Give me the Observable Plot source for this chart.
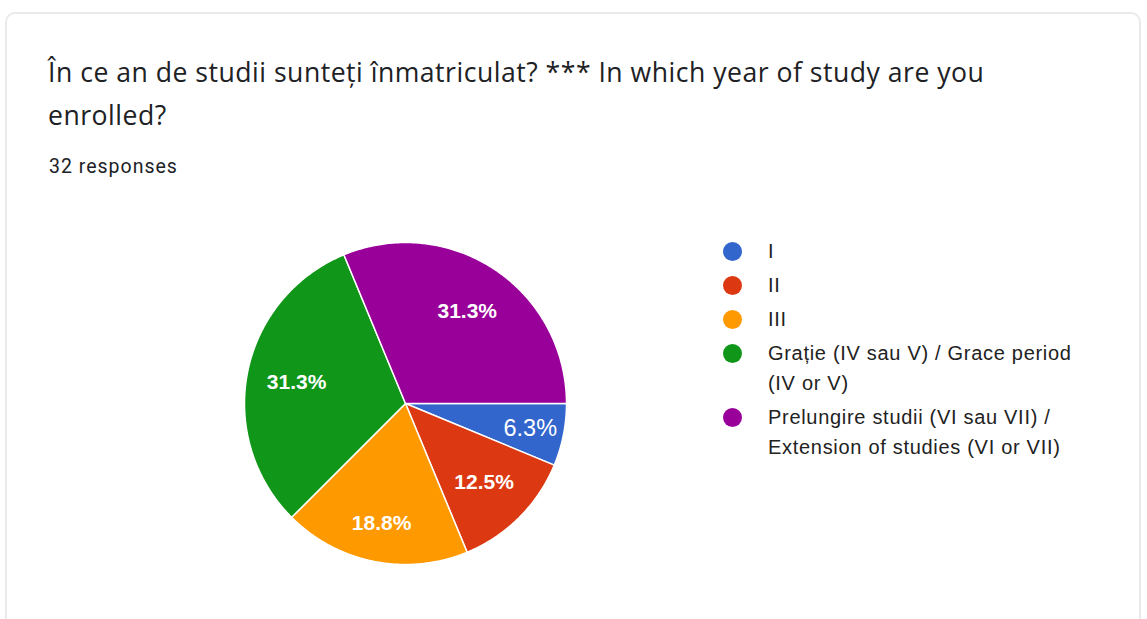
<!DOCTYPE html>
<html>
<head>
<meta charset="utf-8">
<script src="https://cdn.jsdelivr.net/npm/d3@7"></script>
<script src="https://cdn.jsdelivr.net/npm/@observablehq/plot@0.6"></script>
<style>
  html, body { margin: 0; padding: 0; background: #fff; width: 1147px; height: 619px; overflow: hidden; }
  #card { position: absolute; left: 5px; top: 12px; width: 1136px; height: 640px;
          border: 2px solid #e9eaec; border-radius: 10px; box-sizing: border-box; }
  #title { position: absolute; left: 48px; top: 51px; width: 1060px; font-family: "Open Sans", sans-serif;
           font-size: 26.6px; letter-spacing: 0.5px; line-height: 43px; color: #202124; }
  #sub { position: absolute; left: 49px; top: 155px; font-family: Roboto, sans-serif; font-size: 19.5px;
         letter-spacing: 1px; color: #202124; }
  #chart { position: absolute; left: 0; top: 190px; }
  #legend { position: absolute; left: 722px; top: 236px; font-family: Arial, "Liberation Sans", sans-serif;
            font-size: 20px; letter-spacing: 0.7px; color: #222; }
  .item { position: relative; padding-left: 46px; line-height: 30px; margin-bottom: 4px; white-space: pre; }
  .sw { position: absolute; left: 1px; top: 6px; width: 19px; height: 19px; border-radius: 50%; }
</style>
</head>
<body>
<div id="card"></div>
<div id="title">În ce an de studii sunteți înmatriculat? *** In which year of study are you<br>enrolled?</div>
<div id="sub">32 responses</div>
<div id="chart"></div>
<div id="legend"></div>
<script>
const categories = ["I", "II", "III", "Grație (IV sau V) / Grace period (IV or V)", "Prelungire studii (VI sau VII) / Extension of studies (VI or VII)"];
const legendLines = [["I"], ["II"], ["III"], ["Grație (IV sau V) / Grace period", "(IV or V)"], ["Prelungire studii (VI sau VII) /", "Extension of studies (VI or VII)"]];
const counts = [2, 4, 6, 10, 10];
const colors = ["#3366cc", "#dc3912", "#ff9900", "#109618", "#990099"];

// layout
const W = 1147, H = 429, cx = 405, cy = 213, R = 161;
const total = d3.sum(counts);

// slices: start at 3 o'clock, go clockwise
const pie = d3.pie().sort(null).value(d => d)(counts);
const pts = [];
const labels = [];
// label radius fraction (layout) per slice
const labelR = [0.79, 0.69, 0.76, 0.69, 0.69];
pie.forEach((p, i) => {
  const a0 = p.startAngle + Math.PI / 2, a1 = p.endAngle + Math.PI / 2;
  pts.push({cat: categories[i], x: 0, y: 0});
  const n = Math.max(2, Math.ceil((a1 - a0) / 0.01));
  for (let k = 0; k <= n; k++) {
    const a = a0 + (a1 - a0) * k / n;
    pts.push({cat: categories[i], x: Math.sin(a), y: Math.cos(a)});
  }
  const am = (a0 + a1) / 2;
  const pct = (counts[i] / total * 100).toFixed(1) + "%";
  labels.push({cat: categories[i], x: labelR[i] * Math.sin(am), y: labelR[i] * Math.cos(am), text: pct, big: i === 0});
});

const chart = Plot.plot({
  width: W, height: H,
  margin: 0,
  x: {domain: [-1, 1], range: [cx - R, cx + R], axis: null},
  y: {domain: [-1, 1], range: [cy + R, cy - R], axis: null},
  color: {domain: categories, range: colors},
  style: {background: "transparent"},
  marks: [
    Plot.line(pts, {x: "x", y: "y", z: "cat", fill: "cat", stroke: "white", strokeWidth: 1.5, curve: "linear-closed"}),
    Plot.text(labels.filter(d => !d.big), {x: "x", y: "y", text: "text", fill: "white", fontSize: 21, fontWeight: "bold", fontFamily: "Arial, 'Liberation Sans', sans-serif"}),
    Plot.text(labels.filter(d => d.big), {x: "x", y: "y", text: "text", fill: "white", fontSize: 23.5, fontFamily: "Arial, 'Liberation Sans', sans-serif"})
  ]
});
document.getElementById("chart").appendChild(chart);

const leg = document.getElementById("legend");
legendLines.forEach((lines, i) => {
  const div = document.createElement("div");
  div.className = "item";
  const sw = document.createElement("span");
  sw.className = "sw";
  sw.style.background = colors[i];
  div.appendChild(sw);
  div.appendChild(document.createTextNode(lines.join("\n")));
  leg.appendChild(div);
});
</script>
</body>
</html>
